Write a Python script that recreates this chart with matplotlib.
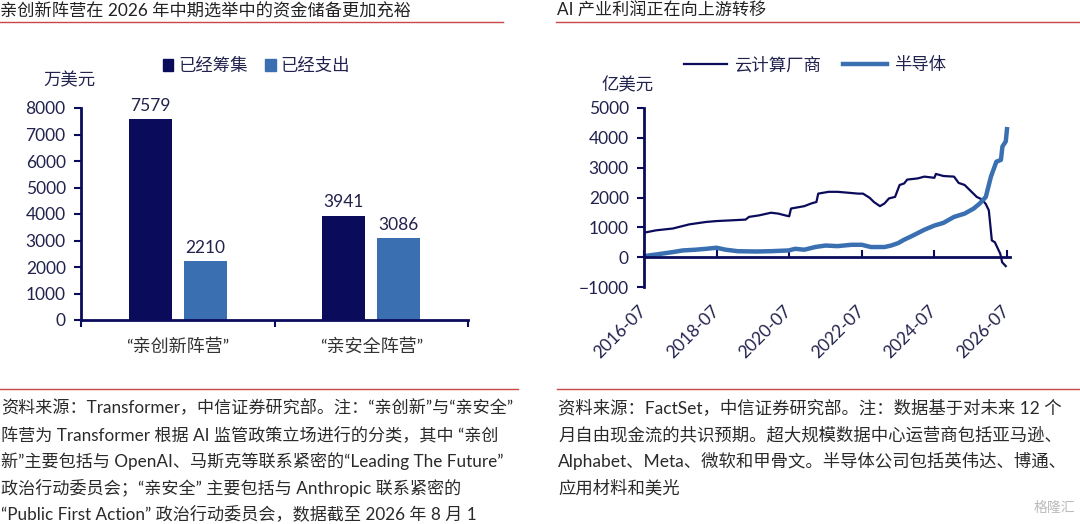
import numpy as np
import matplotlib
matplotlib.use('Agg')
import matplotlib.pyplot as plt
from matplotlib.lines import Line2D
from matplotlib.patches import Patch

plt.rcParams['font.family'] = ['Lato', 'Noto Sans CJK SC', 'DejaVu Sans']

# 左图：两大阵营资金（万美元）
camps = ['“亲创新阵营”', '“亲安全阵营”']
raised = [7579, 3941]
spent = [2210, 3086]

# 右图：未来12个月自由现金流共识预期（亿美元），横轴为自2016-07起的月数
cloud_m = [0, 4, 9.5, 15, 20.5, 24, 29, 33.6, 34.7, 38, 42, 44.4, 46.7, 48, 48.6, 53,
           55.3, 57, 57.6, 61, 64, 67.5, 70.8, 72.4, 74.6, 76, 78, 79.5, 81, 83, 84.5,
           86, 87, 90.5, 92.7, 96, 96.5, 99, 102.5, 104, 106, 108, 110, 111.8, 113,
           114, 115, 116, 117.8, 118.4, 119.6]
cloud_v = [820, 900, 960, 1100, 1180, 1210, 1235, 1260, 1350, 1400, 1490, 1460, 1400,
           1370, 1630, 1710, 1800, 1850, 2130, 2190, 2190, 2160, 2130, 2130, 1990, 1850,
           1710, 1800, 1970, 2020, 2420, 2470, 2600, 2640, 2700, 2660, 2790, 2720, 2700,
           2490, 2420, 2220, 2020, 1930, 1780, 1570, 560, 500, 110, -170, -300]
semi_m = [0, 4, 9.5, 12.8, 17, 20.5, 24, 27, 31, 37, 42, 47.8, 50, 53, 56.6, 60, 64,
          68.6, 72, 75, 79.5, 81.7, 84, 86, 89, 92.7, 96, 99, 102.5, 106, 109, 111,
          113, 114.7, 116.5, 118, 118.5, 119.6, 120]
semi_v = [35, 90, 170, 225, 250, 280, 315, 250, 200, 190, 200, 225, 280, 250, 340, 390,
          370, 415, 415, 340, 340, 390, 470, 585, 730, 920, 1060, 1150, 1350, 1460, 1630,
          1800, 2020, 2700, 3200, 3260, 3710, 3880, 4290]
date_ticks = [0, 24, 48, 72, 96, 120]
date_labels = ['2016-07', '2018-07', '2020-07', '2022-07', '2024-07', '2026-07']

navy = '#0b0b5c'
blue = '#3a70b2'
txt = '#22224e'
red = '#c8484a'

fig = plt.figure(figsize=(10.8, 5.24), dpi=100)
W, H = 1080, 524


def fx(px):
    return px / W


def fy(py):
    return 1 - py / H


# 标题与红线
fig.text(0, fy(11), '亲创新阵营在 2026 年中期选举中的资金储备更加充裕', fontsize=12.4,
         color='#222222', va='center', ha='left')
fig.text(fx(557), fy(11), 'AI 产业利润正在向上游转移', fontsize=12.3, color='#222222',
         va='center', ha='left')
for x0, x1, yy in [(0, 503, 22), (556, 1080, 22), (0, 518, 389), (557, 1080, 389)]:
    fig.add_artist(Line2D([fx(x0), fx(x1)], [fy(yy), fy(yy)], color=red, lw=1.0,
                          transform=fig.transFigure))

# 左图
ax1 = fig.add_axes([fx(81), fy(320), fx(387), 212 / H])
x = np.arange(len(camps))
b1 = ax1.bar(x - 0.142, raised, 0.22, color=navy)
b2 = ax1.bar(x + 0.142, spent, 0.22, color=blue)
for xi, v in zip(x, raised):
    ax1.annotate(str(v), (xi - 0.142, v), xytext=(0, 4), textcoords='offset points',
                 ha='center', va='bottom', fontsize=12.5, color=txt)
for xi, v in zip(x, spent):
    ax1.annotate(str(v), (xi + 0.142, v), xytext=(0, 4), textcoords='offset points',
                 ha='center', va='bottom', fontsize=12.5, color=txt)
ax1.set_xlim(-0.5, 1.5)
ax1.set_ylim(0, 8000)
ax1.set_yticks(range(0, 8001, 1000))
ax1.set_xticks([-0.5, 0.5, 1.5])
ax1.set_xticklabels([])
ax1.set_xticks(x, minor=True)
ax1.set_xticklabels(camps, minor=True, fontsize=13, color='#333333')
ax1.tick_params(axis='x', which='minor', length=0, pad=13)
ax1.tick_params(axis='x', which='major', direction='out', length=5, width=1.5, color=navy)
ax1.tick_params(axis='y', direction='out', length=5, width=1.5, color=navy,
                labelsize=12.5, labelcolor=txt, pad=6)
for s in ['top', 'right']:
    ax1.spines[s].set_visible(False)
for s in ['left', 'bottom']:
    ax1.spines[s].set_color(navy)
    ax1.spines[s].set_linewidth(2)
fig.text(fx(43), fy(80), '万美元', fontsize=12.5, color=txt, va='center', ha='left')
fig.legend([Patch(color=navy), Patch(color=blue)], ['已经筹集', '已经支出'],
           loc='center left', bbox_to_anchor=(fx(147), fy(66)), ncol=2, frameon=False,
           fontsize=12.5, handlelength=0.6, handleheight=0.6, handletextpad=0.3,
           columnspacing=1.0, labelcolor=txt)

# 右图
ax2 = fig.add_axes([fx(644), fy(287), fx(366), 179 / H])
l1, = ax2.plot(cloud_m, cloud_v, color=navy, lw=1.6)
l2, = ax2.plot(semi_m, semi_v, color=blue, lw=3.2)
ax2.spines['bottom'].set_position(('data', 0))
ax2.set_xlim(0, 121)
ax2.set_ylim(-1000, 5000)
ax2.set_yticks(range(-1000, 5001, 1000))
ax2.set_xticks(date_ticks)
ax2.set_xticklabels(date_labels)
ax2.tick_params(axis='x', direction='in', length=5, width=1.5, color=navy,
                labelsize=12.5, labelcolor=txt, pad=37)
ax2.tick_params(axis='y', direction='out', length=5, width=1.5, color=navy,
                labelsize=12.5, labelcolor=txt, pad=6)
plt.setp(ax2.get_xticklabels(), rotation=45, ha='right', va='center',
         rotation_mode='anchor')
for s in ['top', 'right']:
    ax2.spines[s].set_visible(False)
for s in ['left', 'bottom']:
    ax2.spines[s].set_color(navy)
    ax2.spines[s].set_linewidth(2)
fig.text(fx(602), fy(85), '亿美元', fontsize=12.5, color=txt, va='center', ha='left')
fig.legend([l1, l2], ['云计算厂商', '半导体'], loc='center left',
           bbox_to_anchor=(fx(668), fy(65)), ncol=2, frameon=False, fontsize=12.5,
           handlelength=2.5, handletextpad=0.4, columnspacing=1.3, labelcolor=txt)

# 注释
left_notes = [
    '资料来源：Transformer，中信证券研究部。注：“亲创新”与“亲安全”',
    '阵营为 Transformer 根据 AI 监管政策立场进行的分类，其中 “亲创',
    '新”主要包括与 OpenAI、马斯克等联系紧密的“Leading The Future”',
    '政治行动委员会；“亲安全” 主要包括与 Anthropic 联系紧密的',
    '“Public First Action” 政治行动委员会，数据截至 2026 年 8 月 1',
]
right_notes = [
    '资料来源：FactSet，中信证券研究部。注：数据基于对未来 12 个',
    '月自由现金流的共识预期。超大规模数据中心运营商包括亚马逊、',
    'Alphabet、Meta、微软和甲骨文。半导体公司包括英伟达、博通、',
    '应用材料和美光',
]
rows = [408, 435, 461, 488, 514]
for yy, t in zip(rows, left_notes):
    fig.text(0.001, fy(yy), t, fontsize=12.3, color='#2a2a2a', va='center', ha='left')
for yy, t in zip(rows, right_notes):
    fig.text(fx(558), fy(yy), t, fontsize=12.5, color='#2a2a2a', va='center', ha='left')
fig.text(fx(1075), fy(507), '格隆汇', fontsize=10, color='#bbbbbb', va='center', ha='right')

fig.savefig('out.png', dpi=100)
